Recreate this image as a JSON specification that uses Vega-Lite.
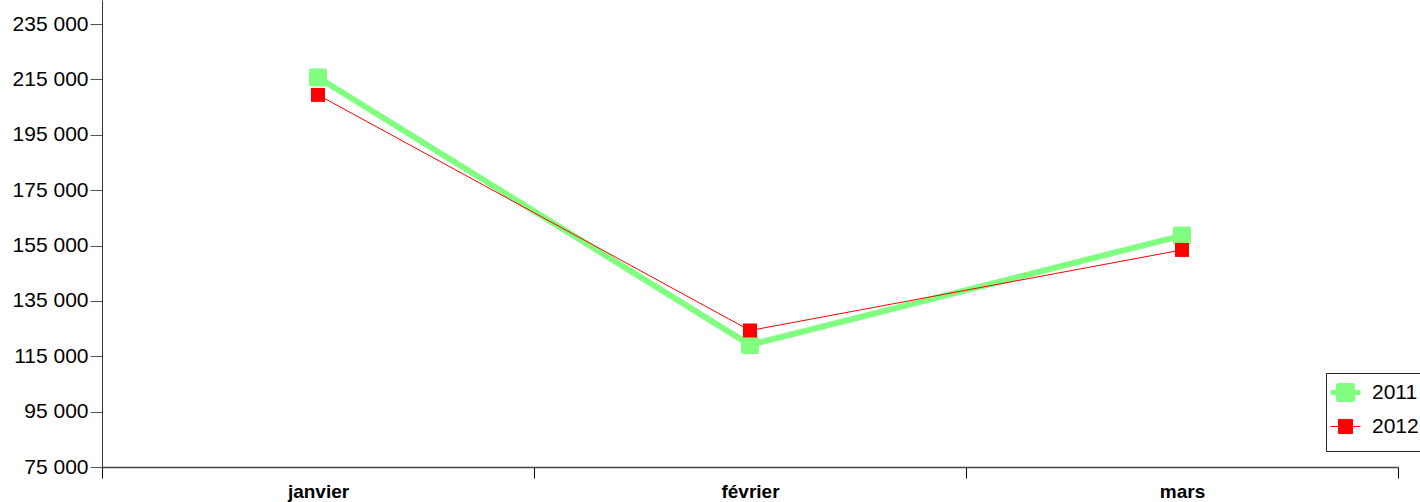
{
  "$schema": "https://vega.github.io/schema/vega-lite/v6.json",
  "width": 1296,
  "height": 467,
  "autosize": {"type": "none"},
  "padding": {"left": 102, "top": 0, "right": 22, "bottom": 35},
  "background": "white",
  "config": {
    "font": "Liberation Sans",
    "view": {"stroke": null},
    "axis": {"grid": false}
  },
  "data": {
    "values": [
      {"mois": "janvier", "year": "2011", "valeur": 215700},
      {"mois": "février", "year": "2011", "valeur": 119100},
      {"mois": "mars", "year": "2011", "valeur": 158600},
      {"mois": "janvier", "year": "2012", "valeur": 209400},
      {"mois": "février", "year": "2012", "valeur": 124300},
      {"mois": "mars", "year": "2012", "valeur": 153400}
    ]
  },
  "encoding": {
    "x": {
      "field": "mois",
      "type": "ordinal",
      "sort": ["janvier", "février", "mars"],
      "scale": {"type": "band", "paddingInner": 0, "paddingOuter": 0},
      "axis": {
        "title": null,
        "labelAngle": 0,
        "labelFontSize": 19,
        "labelFontWeight": "bold",
        "labelColor": "black",
        "labelPadding": 4,
        "tickBand": "extent",
        "tickSize": 11,
        "tickColor": "black",
        "domainColor": "#444444",
        "domainWidth": 1.5
      }
    },
    "y": {
      "field": "valeur",
      "type": "quantitative",
      "scale": {"domain": [75000, 243670], "nice": false, "zero": false},
      "axis": {
        "title": null,
        "values": [75000, 95000, 115000, 135000, 155000, 175000, 195000, 215000, 235000],
        "labelExpr": "replace(format(datum.value, ','), ',', ' ')",
        "labelFontSize": 21,
        "labelColor": "black",
        "labelPadding": 2,
        "tickSize": 12,
        "tickColor": "#555555",
        "domainColor": "#333333"
      }
    },
    "color": {
      "field": "year",
      "type": "nominal",
      "scale": {"domain": ["2011", "2012"], "range": ["#80FF80", "#FF0000"]},
      "legend": {
        "title": null,
        "orient": "none",
        "legendX": 1224,
        "legendY": 373,
        "padding": 9,
        "rowPadding": 1,
        "strokeColor": "#222222",
        "fillColor": "white",
        "labelFontSize": 21,
        "labelColor": "black",
        "labelOffset": 16,
        "symbolType": "M-1,-1M-1,0L-0.47,0M0.47,0L1,0M-0.47,-0.47L0.47,-0.47L0.47,0.47L-0.47,0.47ZM1,1",
        "symbolSize": 900,
        "symbolOpacity": 1,
        "encode": {
          "symbols": {
            "update": {
              "fill": {"scale": "color", "field": "value"},
              "stroke": {"scale": "color", "field": "value"},
              "strokeWidth": {"signal": "datum.value === '2011' ? 5 : 1"},
              "strokeJoin": {"value": "round"},
              "opacity": {"value": 1},
              "fillOpacity": {"value": 1}
            }
          }
        }
      }
    }
  },
  "layer": [
    {
      "mark": {"type": "line", "strokeJoin": "round"},
      "encoding": {
        "strokeWidth": {"condition": {"test": "datum.year === '2011'", "value": 6}, "value": 1}
      }
    },
    {
      "mark": {"type": "point", "shape": "square", "filled": true, "opacity": 1, "size": 196, "strokeJoin": "round"},
      "encoding": {
        "stroke": {"condition": {"test": "datum.year === '2011'", "value": "#80FF80"}, "value": "#FF0000"},
        "strokeWidth": {"condition": {"test": "datum.year === '2011'", "value": 4}, "value": 0}
      }
    }
  ]
}
